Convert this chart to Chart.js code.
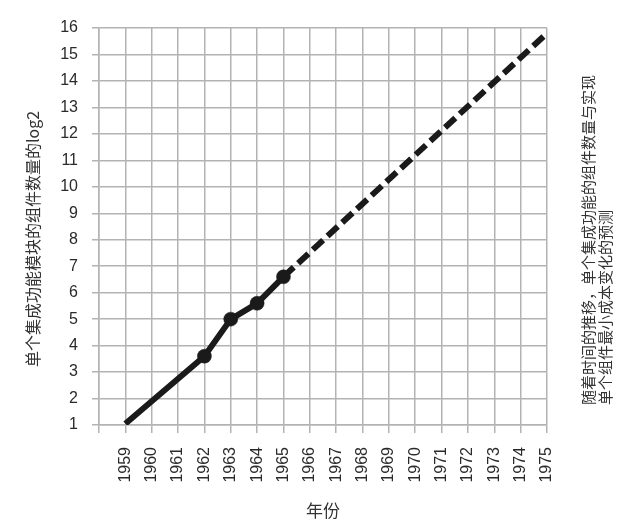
<!DOCTYPE html>
<html>
<head>
<meta charset="utf-8">
<script src="https://cdn.jsdelivr.net/npm/chart.js@4.4.1/dist/chart.umd.min.js"></script>
<style>
  html, body { margin: 0; padding: 0; background: #fff; }
  #wrap { width: 630px; height: 525px; }
</style>
</head>
<body>
<div id="wrap"><canvas id="myChart" width="630" height="525"></canvas></div>
<script>
// Measured years and projection
const actualYears = [1959, 1962, 1963, 1964, 1965];
const actualValues = [1.05, 3.6, 5.0, 5.6, 6.6];
const projYears = [1965, 1975];
const projValues = [6.6, 15.8];
const yTicks = [1, 2, 3, 4, 5, 6, 7, 8, 9, 10, 11, 12, 13, 14, 15, 16];
const yearTicks = [1959, 1960, 1961, 1962, 1963, 1964, 1965, 1966, 1967, 1968, 1969, 1970, 1971, 1972, 1973, 1974, 1975];

const yTitle = '单个集成功能模块的组件数量的log2';
const sideNote = ['随着时间的推移，单个集成功能的组件数量与实现', '单个组件最小成本变化的预测'];

const toPoints = (xs, ys) => xs.map((x, i) => ({ x: x, y: ys[i] }));

// rotated texts: y title and the note on the right
const sideText = {
    id: 'sideText',
    afterDraw(chart) {
        const ctx = chart.ctx;
        ctx.save();
        ctx.fillStyle = '#333';
        ctx.textBaseline = 'middle';

        ctx.save();
        ctx.font = '16px "Noto Sans CJK SC", sans-serif';
        ctx.textAlign = 'center';
        ctx.translate(33, 239);
        ctx.rotate(-Math.PI / 2);
        ctx.fillText(yTitle, 0, 0);
        ctx.restore();

        ctx.font = '15px "Noto Sans CJK SC", sans-serif';
        ctx.textAlign = 'left';
        sideNote.forEach((line, i) => {
            ctx.save();
            ctx.translate(588 + i * 17, 405);
            ctx.rotate(-Math.PI / 2);
            ctx.fillText(line, 0, 0);
            ctx.restore();
        });
        ctx.restore();
    }
};

const gridColor = '#b3b3b3';

const config = {
    type: 'line',
    data: {
        datasets: [{
            data: toPoints(actualYears, actualValues),
            borderColor: '#1a1a1a',
            backgroundColor: '#1a1a1a',
            borderWidth: 6,
            borderCapStyle: 'butt',
            pointRadius: [0, 7, 7, 7, 7],
            pointBorderWidth: 0.5,
            pointHoverRadius: 7,
            tension: 0
        }, {
            data: toPoints(projYears, projValues),
            borderColor: '#1a1a1a',
            borderWidth: 6,
            borderDash: [14, 6],
            borderCapStyle: 'butt',
            pointRadius: 0,
            tension: 0
        }]
    },
    options: {
        responsive: false,
        animation: false,
        layout: { padding: { top: 28, right: 83, left: 0, bottom: 0 } },
        plugins: {
            legend: { display: false },
            tooltip: { enabled: false }
        },
        scales: {
            x: {
                type: 'linear',
                min: 1958,
                max: 1975,
                afterFit(scale) { scale.height = 100; },
                afterBuildTicks(scale) {
                    scale.ticks = [1958].concat(yearTicks).map(v => ({ value: v }));
                },
                ticks: {
                    autoSkip: false,
                    maxRotation: 90,
                    minRotation: 90,
                    padding: 14,
                    color: '#2a2a2a',
                    font: { family: '"Liberation Sans", Arial, sans-serif', size: 16 },
                    callback: v => (v === 1958 ? '' : String(v))
                },
                grid: { color: gridColor, lineWidth: 1.5, tickLength: 8 },
                border: { color: gridColor, width: 1.5 },
                title: {
                    display: true,
                    text: '年份',
                    color: '#333',
                    font: { family: '"Noto Sans CJK SC", sans-serif', size: 17 },
                    padding: { top: 0, bottom: 4 }
                }
            },
            y: {
                min: 1,
                max: 16,
                afterFit(scale) { scale.width = 99; },
                afterBuildTicks(scale) {
                    scale.ticks = yTicks.map(v => ({ value: v }));
                },
                ticks: {
                    padding: 14,
                    color: '#2a2a2a',
                    font: { family: '"Liberation Sans", Arial, sans-serif', size: 16 }
                },
                grid: { color: gridColor, lineWidth: 1.5, tickLength: 7 },
                border: { color: gridColor, width: 1.5 }
            }
        }
    },
    plugins: [sideText]
};

const myChart = new Chart(document.getElementById('myChart'), config);
</script>
</body>
</html>
